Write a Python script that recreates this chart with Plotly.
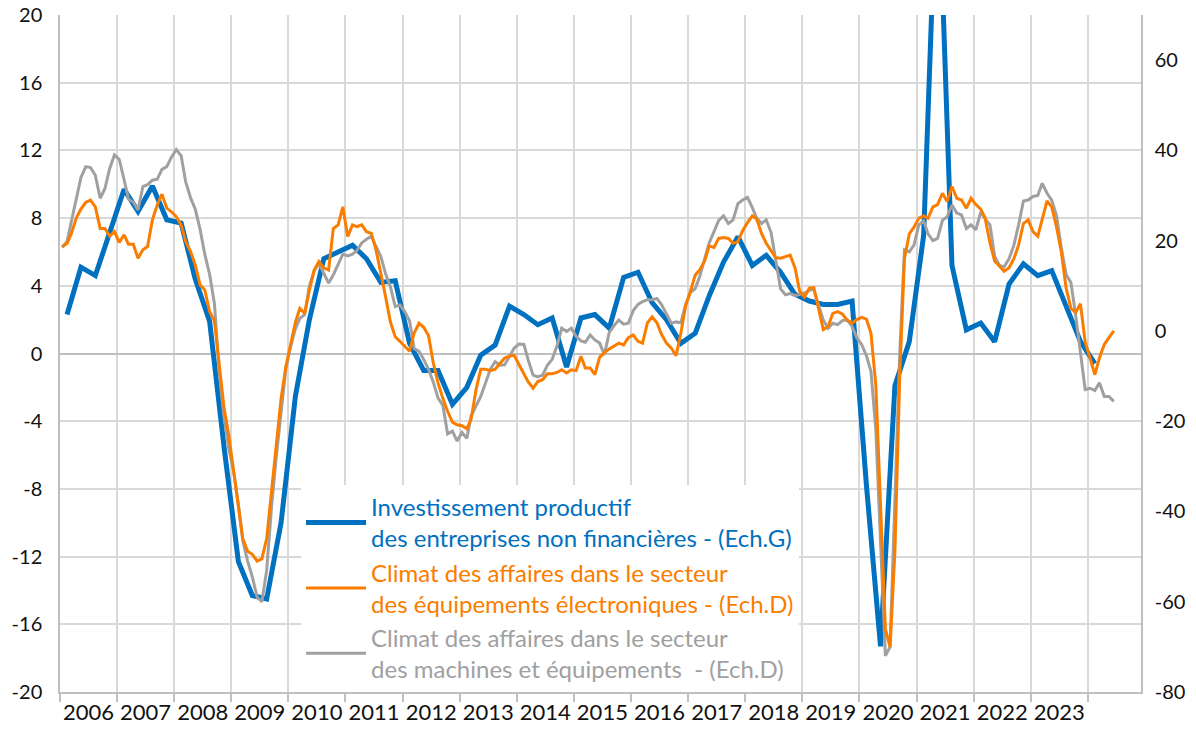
import pandas as pd
import plotly.graph_objects as go

# ---------------- data ----------------
years = list(range(2006, 2024))
year_labels = [str(y) for y in years]

# Investissement productif des SNF (trimestriel, Ech.G) 2006T1 .. 2024T1
invest = [2.3, 5.1, 4.6, 7.1,
          9.7, 8.4, 9.9, 7.9,
          7.7, 4.4, 1.9, -5.5,
          -12.3, -14.3, -14.5, -10.0,
          -2.5, 2.0, 5.6, 6.0,
          6.4, 5.6, 4.2, 4.3,
          0.6, -1.0, -1.0, -3.0,
          -2.0, -0.1, 0.5, 2.8,
          2.3, 1.7, 2.1, -0.8,
          2.1, 2.3, 1.5, 4.5,
          4.8, 3.0, 2.0, 0.6,
          1.2, 3.4, 5.4, 6.9,
          5.2, 5.8, 4.8, 3.5,
          3.1, 2.9, 2.9, 3.1,
          -7.8, -17.3, -1.9, 0.7,
          7.0, 30.0, 5.2, 1.4,
          1.8, 0.7, 4.1, 5.3,
          4.6, 4.9, 2.7, 0.7,
          -0.6]

# Climat des affaires - equipements electroniques (mensuel, Ech.D) 2006-01 .. 2024-06
electro = [18.7, 19.4, 21.6, 25.0, 27.0, 28.5, 29.0, 27.5, 22.7, 22.7, 21.0, 22.0,
           19.6, 21.3, 19.2, 19.2, 16.1, 18.0, 18.7, 24.6, 27.9, 30.3, 27.2, 26.4,
           25.3, 23.5, 19.8, 17.6, 14.6, 10.2, 9.1, 4.3, 2.1, -8.0, -17.0, -23.0,
           -31.0, -40.0, -46.0, -48.8, -49.5, -51.0, -50.5, -46.0, -35.0, -24.5, -15.0, -8.0,
           -3.0, 2.0, 5.0, 3.9, 9.0, 13.5, 15.4, 14.0, 13.5, 22.7, 23.5, 27.5,
           20.9, 23.5, 23.1, 23.5, 22.0, 21.6, 18.0, 13.0, 7.5, 2.0, -1.3, -2.3,
           -3.5, -4.5, -0.5, 1.7, 0.8, -1.0, -7.0, -11.5, -15.0, -17.8, -20.2, -20.8,
           -21.0, -21.7, -19.5, -13.0, -8.5, -8.5, -8.8, -8.5, -7.2, -6.0, -5.6, -5.4,
           -7.5, -9.4, -11.3, -12.7, -11.2, -10.8, -9.5, -9.5, -9.2, -8.6, -9.3, -8.6,
           -8.8, -5.6, -8.2, -8.2, -9.7, -5.8, -4.8, -4.0, -3.3, -2.7, -3.1, -1.5,
           -0.9, -2.3, -2.7, 1.8, 3.1, 1.8, -0.8, -2.7, -3.8, -5.5, -0.5, 5.5,
           8.8, 12.4, 13.5, 15.4, 18.8, 18.5, 20.5, 20.7, 20.5, 19.4, 19.8, 22.2,
           24.0, 25.5, 24.8, 21.6, 19.4, 17.7, 16.2, 16.1, 16.4, 16.8, 14.0, 8.8,
           7.5, 9.5, 9.6, 4.5, 0.3, 1.0, 3.9, 4.3, 3.7, 2.4, 1.7, 2.5,
           3.0, 2.6, -0.5, -12.0, -38.0, -66.0, -70.0, -48.8, -10.0, 16.0, 21.5, 23.0,
           25.0, 25.5, 25.0, 27.5, 28.0, 30.5, 28.7, 32.0, 29.4, 29.0, 27.2, 29.4,
           28.0, 27.0, 25.0, 19.5, 15.5, 14.2, 13.2, 14.0, 16.0, 19.0, 23.8, 24.6,
           22.0, 21.0, 24.5, 28.8, 27.5, 23.0, 17.6, 9.5, 5.0, 4.1, 6.0, -2.5,
           -6.0, -9.7, -6.0, -3.0, -1.5, 0.0]

# Climat des affaires - machines et equipements (mensuel, Ech.D) 2006-01 .. 2024-06
machines = [18.5, 19.8, 24.3, 29.4, 34.0, 36.4, 36.2, 34.5, 29.4, 31.5, 36.0, 39.0,
            38.0, 33.5, 29.2, 28.5, 26.8, 32.0, 32.4, 33.4, 33.6, 35.8, 36.4, 38.5,
            40.2, 38.8, 33.0, 29.5, 27.0, 22.5, 17.0, 12.5, 6.0, -9.0, -19.0, -26.0,
            -31.0, -38.5, -46.5, -51.0, -54.5, -59.0, -60.0, -53.0, -39.0, -28.0, -17.5, -8.5,
            -3.5, 0.5, 2.8, 3.6, 10.0, 13.3, 15.0, 12.8, 10.6, 12.4, 14.8, 17.0,
            16.6, 17.0, 17.8, 19.5, 20.3, 21.0, 18.7, 16.5, 12.6, 9.8, 5.4, 5.8,
            4.3, 2.2, -3.9, -4.5, -6.3, -8.5, -11.3, -14.9, -16.5, -22.8, -22.2, -24.4,
            -22.5, -23.8, -18.8, -16.6, -14.5, -11.5, -8.5, -6.8, -7.6, -7.5, -5.5, -3.8,
            -2.9, -3.0, -6.5, -9.8, -10.2, -9.8, -7.6, -6.3, -3.3, 0.6, -0.1, 0.6,
            -1.2, -2.2, -2.5, -0.9, -2.0, -2.7, -5.3, -0.3, 1.2, 2.4, 1.5, 1.7,
            4.5, 5.9, 6.5, 6.9, 6.9, 7.2, 5.8, 3.7, 1.7, 2.0, 1.8, 5.8,
            8.5, 9.4, 12.0, 15.8, 19.5, 22.0, 24.5, 25.5, 23.8, 24.6, 28.2, 29.0,
            29.6, 27.3, 25.0, 23.8, 24.6, 21.8, 15.5, 9.3, 8.0, 8.3, 7.8, 8.1,
            8.4, 9.0, 9.3, 5.7, 2.4, 0.6, 1.7, 1.4, 2.3, 2.4, 1.0, -1.5,
            -3.0, -5.5, -9.0, -22.0, -45.0, -72.0, -70.0, -38.0, -5.0, 18.0, 17.5, 19.0,
            23.5, 24.4, 21.5, 20.0, 20.5, 24.5, 25.3, 27.9, 26.1, 25.7, 22.7, 23.5,
            22.4, 26.4, 24.8, 23.5, 16.5, 14.5, 14.2, 16.0, 19.0, 23.5, 28.8, 29.0,
            29.8, 30.0, 32.7, 30.5, 29.0, 25.5, 18.5, 12.5, 10.7, 3.5, -5.0, -13.0,
            -12.7, -13.2, -11.5, -14.5, -14.5, -15.6]

left_ticks = list(range(-20, 21, 4))
left_labels = [str(v) for v in left_ticks]      # plain hyphen as in the original
right_ticks = list(range(-80, 61, 20))
right_labels = [str(v) for v in right_ticks]

# ---------------- x positions (dates) ----------------
months = pd.date_range("2006-01-01", periods=len(electro), freq="MS") + pd.Timedelta(days=14)
quarters = pd.date_range("2006-02-01", periods=len(invest), freq="3MS") + pd.Timedelta(days=14)
mid_years = [f"{y}-07-02" for y in years]
year_starts = [f"{y}-01-01" for y in range(2006, 2025)]

BLUE = "#0070C0"
ORANGE = "#FA7D00"
GRAY = "#A0A0A0"
FONT = "Lato"


def coloured(lines, colour):
    return "<br>".join(f"<span style='color:{colour}'>{l}</span>" for l in lines)


fig = go.Figure()
fig.add_trace(go.Scatter(
    x=months, y=machines, yaxis="y2", mode="lines",
    line=dict(color=GRAY, width=3), legendrank=3,
    name=coloured(["Climat des affaires dans le secteur",
                   "des machines et équipements  - (Ech.D)"], GRAY)))
fig.add_trace(go.Scatter(
    x=months, y=electro, yaxis="y2", mode="lines",
    line=dict(color=ORANGE, width=3), legendrank=2,
    name=coloured(["Climat des affaires dans le secteur",
                   "des équipements électroniques - (Ech.D)"], ORANGE)))
fig.add_trace(go.Scatter(
    x=quarters, y=invest, yaxis="y", mode="lines",
    line=dict(color=BLUE, width=5), legendrank=1,
    name=coloured(["Investissement productif",
                   "des entreprises non financières - (Ech.G)"], BLUE)))

fig.update_layout(
    width=1196, height=731,
    margin=dict(l=60, r=55, t=15, b=39, autoexpand=False),
    paper_bgcolor="white", plot_bgcolor="white",
    font=dict(family=FONT, size=20, color="#111111"),
    showlegend=True,
    legend=dict(x=0.223, y=0.306, xanchor="left", yanchor="top",
                bgcolor="white", borderwidth=0,
                font=dict(family=FONT, size=24),
                itemwidth=60, tracegroupgap=0,
                entrywidth=560, entrywidthmode="pixels"),
    xaxis=dict(
        type="date", range=["2006-01-01", "2024-12-06"], automargin=False,
        tickmode="array", tickvals=mid_years, ticktext=year_labels,
        ticks="", showgrid=False, tickfont=dict(size=22),
        showline=True, linecolor="#BFBFBF", linewidth=1.5,
        minor=dict(tickmode="array", tickvals=year_starts, showgrid=True,
                   gridcolor="#D9D9D9", gridwidth=1.5,
                   ticks="outside", ticklen=8, tickcolor="#BFBFBF", tickwidth=1.5),
    ),
    yaxis=dict(
        range=[-20, 20], tickmode="array", tickvals=left_ticks, ticktext=left_labels,
        automargin=False,
        showgrid=True, gridcolor="#D9D9D9", gridwidth=1.5,
        zeroline=True, zerolinecolor="#BFBFBF", zerolinewidth=2,
        showline=True, linecolor="#BFBFBF", linewidth=1.5,
        ticks="", ticklabelstandoff=12,
    ),
    yaxis2=dict(
        range=[-80, 70], tickmode="array", tickvals=right_ticks, ticktext=right_labels,
        automargin=False,
        overlaying="y", side="right", showgrid=False, zeroline=False,
        showline=True, linecolor="#BFBFBF", linewidth=1.5,
        ticks="", ticklabelstandoff=8,
    ),
)

fig.write_html("out.html",
               config={"displayModeBar": False},
               post_script="document.body.style.margin='0';document.body.style.overflow='hidden';")
